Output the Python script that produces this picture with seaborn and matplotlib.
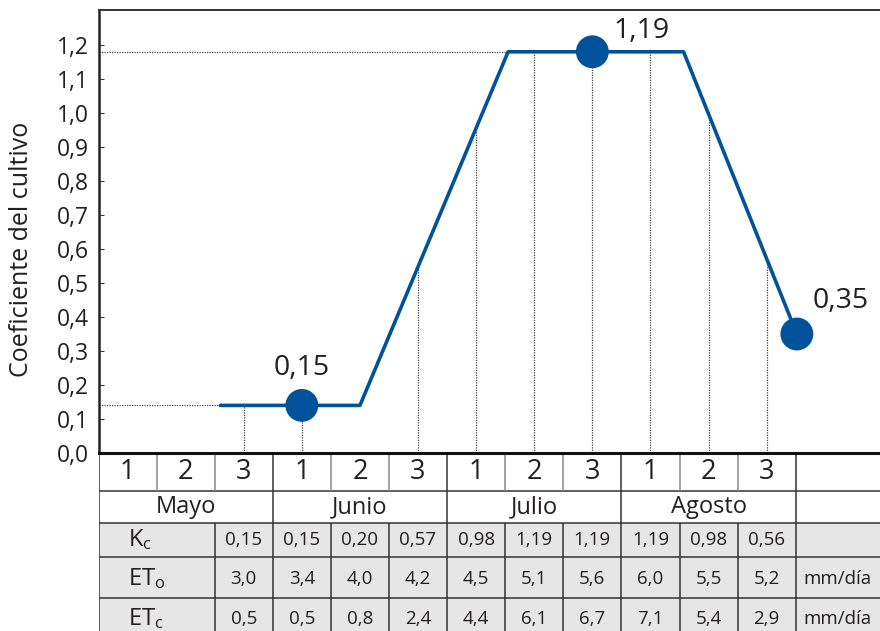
import numpy as np
import matplotlib.pyplot as plt
import seaborn as sns
from matplotlib.patches import Rectangle

# Decadas (3 por mes)
meses = ["Mayo", "Junio", "Julio", "Agosto"]
decadas = ["1", "2", "3"] * 4

# Curva del coeficiente de cultivo (posicion en decadas, valor)
curva_x = [1.6, 4.0, 6.55, 9.57, 11.52]
curva_kc = [0.14, 0.14, 1.18, 1.18, 0.35]

# Puntos destacados
puntos_x = [3.0, 8.0, 11.52]
puntos_kc = [0.14, 1.18, 0.35]
puntos_txt = ["0,15", "1,19", "0,35"]

# Lineas de referencia verticales (decadas)
ref_x = [2, 3, 5, 6, 7, 8, 9, 10, 11]

# Tabla (a partir de la 3a decada de mayo)
kc = [0.15, 0.15, 0.20, 0.57, 0.98, 1.19, 1.19, 1.19, 0.98, 0.56]
eto = [3.0, 3.4, 4.0, 4.2, 4.5, 5.1, 5.6, 6.0, 5.5, 5.2]
etc = [0.5, 0.5, 0.8, 2.4, 4.4, 6.1, 6.7, 7.1, 5.4, 2.9]
unidad = "mm/día"

sns.set_style("white")
plt.rcParams['font.family'] = ['Open Sans', 'DejaVu Sans']
plt.rcParams['mathtext.default'] = 'regular'
texto = "#231f20"
azul = "#00529b"
linea = "#333333"

fig = plt.figure(figsize=(8.8, 6.31), dpi=100)
W, H = 880, 631
x0 = 98.5
xmax = (W - x0) / 58.1 - 0.5
ax = fig.add_axes([x0 / W, (H - 453) / H, 1 - x0 / W, (453 - 10) / H])

# curva y puntos
sns.lineplot(x=curva_x, y=curva_kc, ax=ax, color=azul, lw=2.6, estimator=None, zorder=3)
sns.scatterplot(x=puntos_x, y=puntos_kc, ax=ax, s=560, color=azul, edgecolor="none", zorder=4)

# lineas punteadas de referencia
ax.vlines(ref_x, 0, np.interp(ref_x, curva_x, curva_kc), colors="#444444",
          linestyles=(0, (1, 1)), lw=0.9, zorder=2)
ax.hlines([curva_kc[0], curva_kc[2]], -0.5, [curva_x[0], curva_x[2]], colors="#444444",
          linestyles=(0, (1, 1)), lw=0.9, zorder=2)

# etiquetas de los puntos
offsets = [(0, 27), (15, 15), (11, 24)]
alins = ["center", "left", "left"]
for px, py, t, off, ha in zip(puntos_x, puntos_kc, puntos_txt, offsets, alins):
    ax.annotate(t, (px, py), xytext=off, textcoords="offset points", ha=ha, va="center",
                fontsize=20.5, color=texto)

ax.set_xlim(-0.5, xmax)
ax.set_ylim(0, (453 - 10) / 340)
ax.set_xticks([])
yt = np.arange(0, 13) / 10
ax.set_yticks(yt)
ax.set_yticklabels([f"{v:.1f}".replace(".", ",") for v in yt], fontsize=16.5, color=texto)
ax.set_yticks([0, 0.5, 1.0], minor=True)
ax.tick_params(axis="y", which="major", direction="in", length=3.6, width=0.8, color=linea, pad=7, left=True)
ax.tick_params(axis="y", which="minor", direction="in", length=7.5, width=0.8, color=linea, left=True)
ax.set_ylabel("Coeficiente del cultivo", fontsize=18, color=texto)
ax.yaxis.set_label_coords(-0.083, 0.46)
ax.spines["right"].set_visible(False)
ax.spines["left"].set_linewidth(1.8)
ax.spines["left"].set_color("#222222")
ax.spines["bottom"].set_linewidth(2.2)
ax.spines["bottom"].set_color("#111111")
ax.spines["top"].set_linewidth(1.4)
ax.spines["top"].set_color("#333333")
ax.set_zorder(2)

# tabla inferior
tax = fig.add_axes([x0 / W, 0, 1 - x0 / W, (H - 453) / H])
tax.set_xlim(-0.5, xmax)
tax.set_ylim(H - 453, 0)
tax.axis("off")
filas = [0, 38, 70, 104, 145, 195]
tax.add_patch(Rectangle((-0.5, filas[2]), xmax + 0.5, filas[5] - filas[2], color="#e6e6e7", lw=0))

for yb in filas[1:5]:
    tax.hlines(yb, -0.5, xmax, colors=linea, lw=1.1)

# fila de decadas
for i, d in enumerate(decadas):
    tax.text(i, 19, d, ha="center", va="center", fontsize=19.5, color=texto)
for k in range(13):
    xb = k - 0.5
    c = linea if k % 3 == 0 else "#8a8a8a"
    tax.vlines(xb, filas[0], filas[1], colors=c, lw=1.1)

# fila de meses
for m, mes in enumerate(meses):
    tax.text(3 * m + 1, 54, mes, ha="center", va="center", fontsize=17, color=texto)
for k in range(0, 13, 3):
    tax.vlines(k - 0.5, filas[1], filas[2], colors=linea, lw=1.1)

# filas de valores
tax.vlines([-0.5] + [k - 0.5 for k in range(2, 13)], filas[2], filas[5], colors=linea, lw=1.1)
nombres = ["K$_c$", "ET$_o$", "ET$_c$"]
centros = [87, 126, 166]
series = [[f"{v:.2f}".replace(".", ",") for v in kc],
          [f"{v:.1f}".replace(".", ",") for v in eto],
          [f"{v:.1f}".replace(".", ",") for v in etc]]
unidades = ["", unidad, unidad]
for nombre, yc, vals, u in zip(nombres, centros, series, unidades):
    tax.text(0.0, yc, nombre, ha="left", va="center", fontsize=17, color=texto)
    for j, v in enumerate(vals):
        tax.text(j + 2, yc, v, ha="center", va="center", fontsize=13.5, color=texto)
    tax.text((11.5 + xmax) / 2, yc, u, ha="center", va="center", fontsize=13.5, color=texto)

plt.savefig("out.png", dpi=100)
